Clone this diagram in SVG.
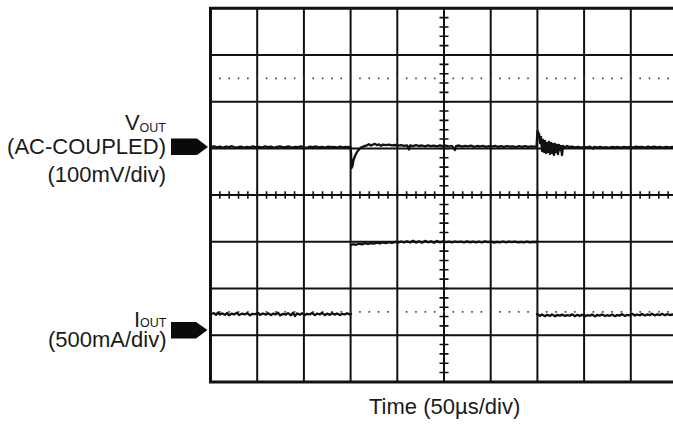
<svg xmlns="http://www.w3.org/2000/svg" width="673" height="424" viewBox="0 0 673 424">
<style>
.lbl{font-family:"Liberation Sans",Arial,sans-serif;font-size:22px;fill:#1a1a1a}
.sub{font-size:12.5px}
.grid{stroke:#111;stroke-width:2;fill:none}
.border{stroke:#111;stroke-width:3;fill:none}
.dots{stroke:#444;stroke-width:1.6;stroke-dasharray:1.6 7.74;fill:none}
.ticks{stroke:#111;stroke-dasharray:1.6 7.74;stroke-dashoffset:0.8;fill:none}
.trace{stroke:#111;stroke-width:2.3;fill:none;stroke-linejoin:round;stroke-linecap:round}
.mark{fill:#0a0a0a}
</style>
<rect width="673" height="424" fill="#fff"/>
<g id="grid">
  <path class="grid" d="M210.5,55H673M210.5,101.7H673M210.5,148.4H673M210.5,195.1H673M210.5,241.8H673M210.5,288.5H673M210.5,335.2H673"/>
  <path class="grid" d="M257.2,8.3V382M303.9,8.3V382M350.6,8.3V382M397.3,8.3V382M444,8.3V382M490.7,8.3V382M537.4,8.3V382M584.1,8.3V382M630.8,8.3V382"/>
  <path class="dots" d="M209.7,78.35H673M209.7,311.85H673"/>
  <path class="ticks" stroke-width="9" d="M444,8.3V382"/>
  <path class="ticks" stroke-width="7.5" d="M210.5,195.1H673"/>
  <path class="border" d="M673,8.3H210.5V382H673"/>
</g>
<g id="traces">
  <polyline id="vout-trace" class="trace" points="211,147 214,146.4 217,147.4 220,146.7 223,147.7 226,146.5 229,147.2 232,146.2 235,147.5 238,147.1 241,146.6 244,147.6 247,146.8 250,147.3 253,146.3 256,147.4 259,146.9 262,147.5 265,146.4 268,147.2 271,146.7 274,147.8 277,146.9 280,146.3 283,147.4 286,147 289,146.5 292,147.6 295,146.8 298,147.2 301,146.4 304,147.3 307,147.9 310,146.6 313,147.1 316,146.5 319,147.4 322,146.8 325,147.5 328,146.6 331,147.2 334,146.9 337,147.6 340,146.7 343,147.3 346,146.8 349,147.2 350.5,147 351,152 351.5,168 352.5,166 353.5,160 355,156 357,152 359,149.5 361,147.5 364,146.2 367,145.3 369,144.2 371,145.6 373,144.5 375,143.9 377,145.2 379,144.3 381,145.8 383,144.6 386,145.1 389,144.7 392,145.4 395,145 398,145.6 401,145.2 404,145.8 407,145.3 409,149.5 410,145.4 413,146.1 416,145.2 419,146 422,145.5 425,146.3 428,145.4 431,146.2 434,145.6 437,146.4 440,145.3 443,146.2 446,145.6 449,146.5 452,145.8 455,150 456,146.1 459,145.5 462,146.6 465,145.9 468,146.4 471,145.7 474,146.8 477,146 480,146.5 483,145.8 486,146.9 489,146.1 492,146.6 495,145.9 498,146.8 501,146.2 504,146.9 507,146 510,146.7 513,146.3 516,147 519,146.2 522,146.8 525,146.1 528,146.9 531,146.4 534,146.7 536.5,146.5 537.5,131 539,134 540,143 541,137 542,151 543,140 544,152 545,141 546,153 547,143 548,152 549,142 550,154 551,143 552,153 553,144 554,155 555,144 556,152 557,145 558,154 559,145 560,150 561,146 562,155 563,146 565,147.5 567,146 569,147 572,146.6 575,147.3 578,146.8 581,147.6 584,146.9 587,147.4 590,146.7 593,148.5 594,147 597,147.5 600,146.8 603,147.6 606,147.1 609,147.8 612,146.9 615,147.5 618,147 621,147.7 624,146.8 627,147.3 630,146.9 633,147.5 636,146.6 639,147.2 642,146.8 645,147.5 648,146.7 651,147.3 654,146.6 657,147.4 660,146.9 663,147.6 666,146.8 669,147.3 673,147"/>
  <polyline id="iout-trace-a" class="trace" points="211,314 214,313.2 216,315 218,312.5 220,314.6 222,313.4 225,314.8 227,313 229,315.2 232,313.6 234,314.5 237,312.8 239,315 242,313.7 245,314.4 247,313.1 250,315.3 252,313.8 255,314.2 258,312.9 260,314.9 263,313.5 266,314.6 268,313.2 271,315 273,313.7 276,314.3 278,312.6 280,315.4 283,313.9 286,314.5 288,313.1 291,315.2 293,312.8 295,316 297,313.4 300,314.7 302,313.3 305,315 307,313.8 310,314.4 312,313 315,315.1 317,313.6 320,314.3 322,312.9 325,315.2 327,313.7 330,314.8 332,313.2 335,314.6 337,313.5 340,315 342,313.9 345,314.4 347,313.2 350,314.5 351,314"/>
  <polyline id="iout-trace-b" class="trace" points="351,245 353,244.2 356,244.8 359,243.6 362,244.3 365,243.2 368,244 371,243.1 374,243.7 377,242.6 380,243.4 383,242.5 386,243.2 389,242.2 392,242.9 395,241.8 398,242.6 401,241.5 404,242.4 407,241.3 410,242.5 413,240.8 416,242.6 419,241.2 422,242.7 425,240.9 428,242.3 431,241.4 434,242.8 437,241 440,242.4 443,241.3 446,242.1 449,241.6 452,242.4 455,241.5 458,242.2 461,241.7 464,242.5 467,241.4 470,242.3 473,241.6 476,242.4 479,241.7 482,242.5 485,241.3 488,242.2 491,241.6 494,242.6 497,241.8 500,242.3 503,241.5 506,242.4 509,241.7 512,242.2 515,241.6 518,242.5 521,241.8 524,242.3 527,241.6 530,242.4 533,241.8 537,242"/>
  <polyline id="iout-trace-c" class="trace" points="537,314 540,315.8 542,314.5 545,316.2 547,314.8 550,315.9 552,314.4 555,316.3 557,315 560,315.6 562,314.6 565,316 567,315.1 570,315.7 572,314.3 575,316.2 577,314.9 580,315.8 582,314.7 585,316.1 587,315.2 590,315.7 592,314.5 595,316.4 597,315 600,315.6 602,314.4 605,316 607,315.2 610,315.8 612,314.6 615,316.2 617,315.1 620,315.5 622,314.2 625,315.9 627,314.8 630,315.4 632,313.8 635,315.6 637,314.5 640,315.3 642,313.9 645,315.5 647,314.4 650,315.2 652,313.7 655,315.4 657,314.3 660,315.1 662,313.8 665,315.3 667,314.2 670,315 673,314.5"/>
</g>
<g id="vout-label">
  <path class="mark" d="M171,138.5H197L208,147L197,155H171Z"/>
  <text class="lbl" x="166" y="130" text-anchor="end">V<tspan class="sub" dy="1.8">OUT</tspan></text>
  <text class="lbl" x="166" y="153.5" text-anchor="end">(AC-COUPLED)</text>
  <text class="lbl" x="166" y="182" text-anchor="end">(100mV/div)</text>
</g>
<g id="iout-label">
  <path class="mark" d="M171,322H196L207.5,330L196,338.5H171Z"/>
  <text class="lbl" x="166.5" y="326.5" text-anchor="end">I<tspan class="sub" dy="0.5">OUT</tspan></text>
  <text class="lbl" x="166.5" y="346.5" text-anchor="end">(500mA/div)</text>
</g>
<g id="time-label">
  <text class="lbl" x="369" y="414">Time (50µs/div)</text>
</g>
</svg>
